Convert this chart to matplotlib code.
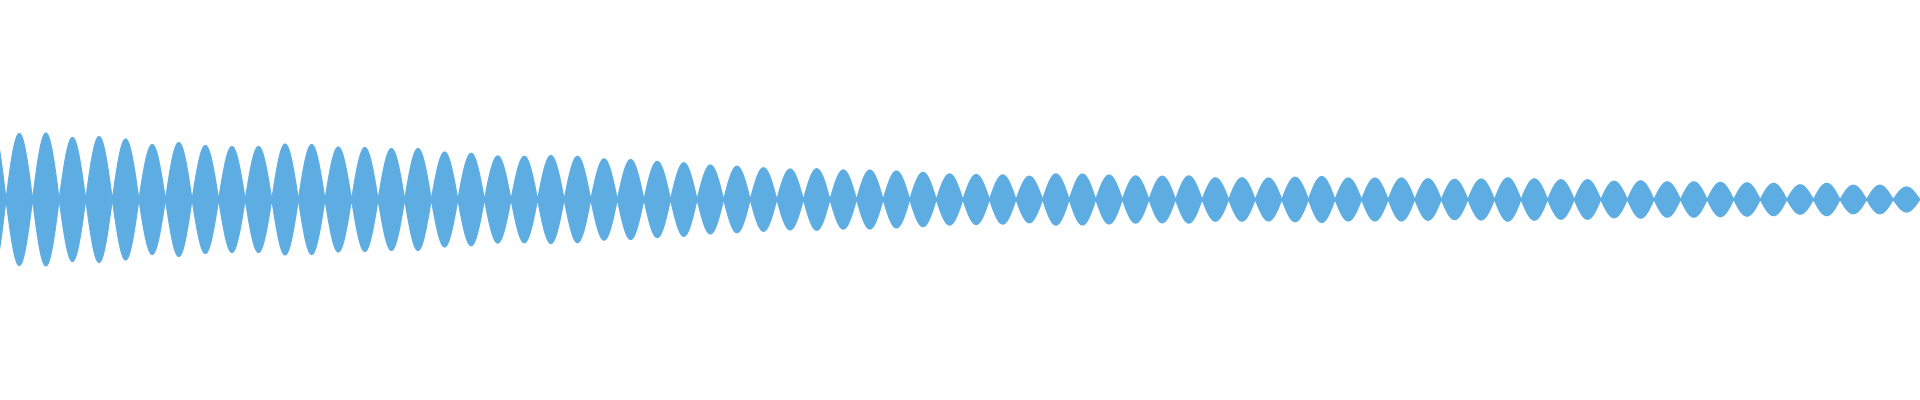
"""Mirrored waveform envelope: one lobe per beat, peak height read per lobe."""

import matplotlib

matplotlib.use("Agg")
import matplotlib.pyplot as plt
import numpy as np

# peak height of each lobe (pixels above the centre line), lobe 0 is cut by the left edge
lobe_peaks = [
    72,
    66, 66.5, 62, 63, 60.5, 55, 57, 54, 53, 53, 55.5, 55, 52.5, 52, 51,
    51, 47.5, 46.3, 43.6, 43.3, 44, 43.2, 40.7, 40, 38.2, 36.8, 34.5, 33.3, 31.8,
    30.5, 30.8, 29.6, 29.5, 28.5, 27.2, 25.6, 25, 24.6, 23.3, 25.6, 25.5, 24.5, 23.6,
    23.3, 23.6, 21.7, 21.7, 21.5, 22.3, 23, 21.5, 21.5, 21.5, 20.8, 20.2, 20.5, 21.7,
    20.7, 19.8, 19.8, 18.3, 18.7, 17.7, 17.7, 17.2, 16.7, 16.2, 14.7, 16.2, 14.3, 14.3, 12.5,
]
lobe_starts = list(range(-1, len(lobe_peaks) - 1))

WAVE_COLOR = "#5dade2"


def lobe_outline(start: float, peak: float, samples: int = 80) -> tuple[np.ndarray, np.ndarray]:
    t = np.linspace(0.0, 1.0, samples)
    return start + t, peak * np.sin(np.pi * t)


def main() -> None:
    fig = plt.figure(figsize=(19.2, 4.0), dpi=100)
    ax = fig.add_axes([0, 0, 1, 1])

    xs, ys = [], []
    for start, peak in zip(lobe_starts, lobe_peaks):
        x, y = lobe_outline(start, peak)
        xs.append(x)
        ys.append(y)
    x = np.concatenate(xs)
    y = np.concatenate(ys)

    ax.fill_between(x, -y, y, color=WAVE_COLOR, linewidth=0.8, edgecolor=WAVE_COLOR)
    ax.plot(x, np.zeros_like(x), color=WAVE_COLOR, linewidth=1.2)

    ax.set_xlim(-6 / 26.58, 1914 / 26.58)
    ax.set_ylim(-200.5, 199.5)
    ax.axis("off")

    fig.savefig("out.png", dpi=100, facecolor="white")
    plt.close(fig)


if __name__ == "__main__":
    main()
